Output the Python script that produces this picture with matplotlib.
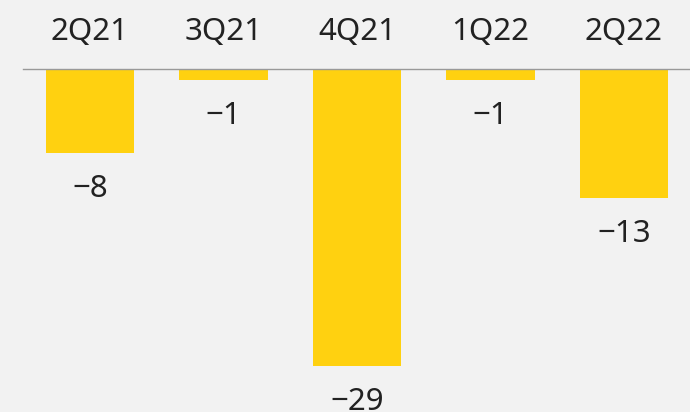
import matplotlib.pyplot as plt
from matplotlib.transforms import offset_copy

quarters = ['2Q21', '3Q21', '4Q21', '1Q22', '2Q22']
values = [-8.2, -1.1, -29.0, -1.1, -12.6]
labels = ['-8', '-1', '-29', '-1', '-13']

plt.rcParams['font.family'] = ['Noto Sans', 'DejaVu Sans']
bg = '#f2f2f2'

fig = plt.figure(figsize=(6.9, 4.12), dpi=100, facecolor=bg)
ax = fig.add_axes([0, 0, 1, 1])
ax.set_facecolor(bg)

x = list(range(len(quarters)))
ax.bar(x, values, width=0.66, color='#ffd110', zorder=2)
ax.axhline(0, xmin=23 / 690, xmax=1, color='#999999', lw=1, zorder=3)

ax.set_xlim(-90 / 133.5, 600 / 133.5)
ax.set_ylim(-343 / 10.24, 69 / 10.24)

# quarter names above the zero line, values below each bar
top = offset_copy(ax.transData, fig=fig, x=0, y=29, units='dots')
for xi, q in zip(x, quarters):
    ax.text(xi, 0, q, transform=top, ha='center', va='baseline',
            fontsize=22.5, color='#222222')

below = offset_copy(ax.transData, fig=fig, x=0, y=-44, units='dots')
for xi, v, lab in zip(x, values, labels):
    ax.text(xi, v, lab.replace('-', '\u2212'), transform=below, ha='center',
            va='baseline', fontsize=22.5, color='#222222')

ax.axis('off')
fig.savefig('out.png', dpi=100, facecolor=bg)
